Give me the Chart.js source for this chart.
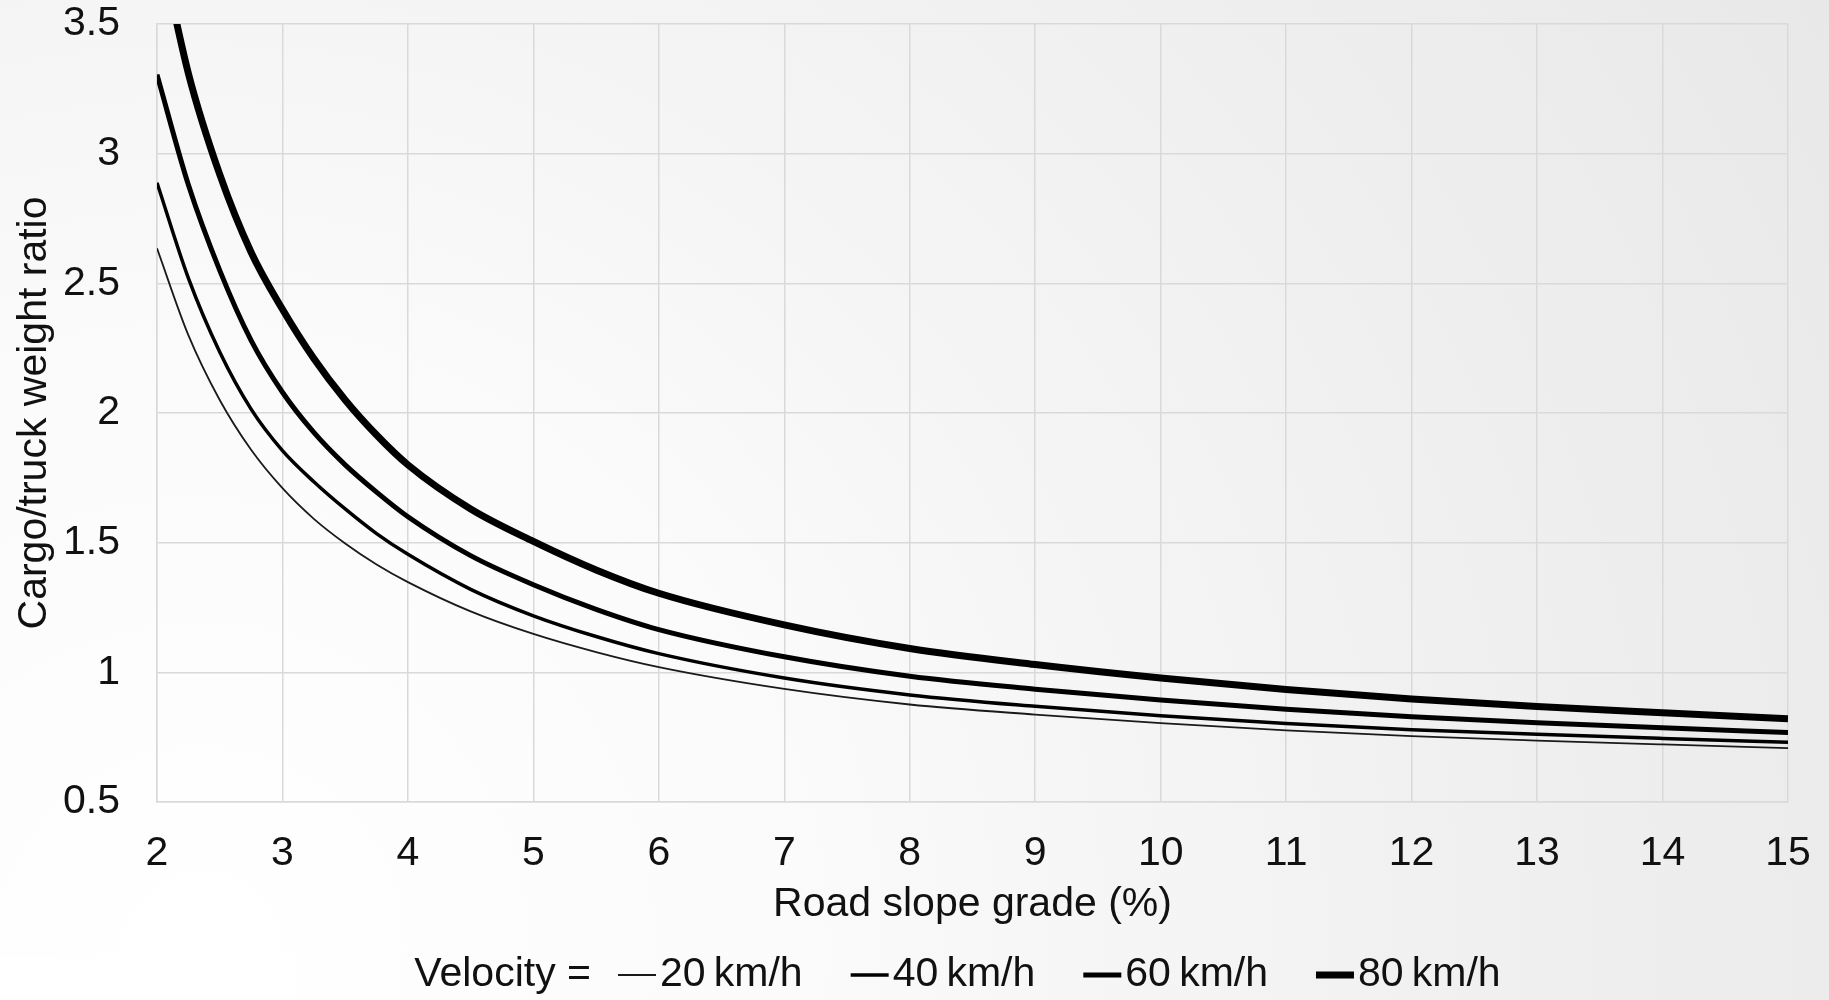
<!DOCTYPE html>
<html>
<head>
<meta charset="utf-8">
<script src="https://cdn.jsdelivr.net/npm/chart.js@4.4.1/dist/chart.umd.min.js"></script>
<style>
  html, body { margin: 0; padding: 0; background: #fff; }
  #wrap { width: 1829px; height: 1000px; }
</style>
</head>
<body>
<div id="wrap"><canvas id="slopeChart" width="1829" height="1000"></canvas></div>
<script>
// road slope grade (%) and cargo/truck weight ratio per velocity
const grades = [2, 2.25, 2.5, 2.75, 3, 3.25, 3.5, 3.75, 4, 4.5, 5, 5.5, 6, 7, 8, 9, 10, 11, 12, 13, 14, 15];
const ratio20 = [2.635, 2.30, 2.05, 1.858, 1.71, 1.592, 1.497, 1.416, 1.348, 1.235, 1.148, 1.078, 1.02, 0.936, 0.876, 0.837, 0.804, 0.776, 0.754, 0.737, 0.722, 0.708];
const ratio40 = [2.888, 2.52, 2.235, 2.015, 1.855, 1.735, 1.63, 1.535, 1.455, 1.32, 1.218, 1.138, 1.072, 0.978, 0.913, 0.869, 0.833, 0.803, 0.779, 0.761, 0.745, 0.730];
const ratio60 = [3.305, 2.88, 2.55, 2.28, 2.08, 1.925, 1.80, 1.695, 1.60, 1.45, 1.338, 1.243, 1.165, 1.06, 0.985, 0.935, 0.893, 0.858, 0.829, 0.806, 0.786, 0.768];
const ratio80 = [3.86, 3.31, 2.92, 2.62, 2.40, 2.21, 2.05, 1.915, 1.80, 1.63, 1.505, 1.395, 1.305, 1.183, 1.092, 1.03, 0.978, 0.934, 0.897, 0.868, 0.844, 0.821];

const velocityLabels = ['20\u2009km/h', '40\u2009km/h', '60\u2009km/h', '80\u2009km/h'];
const legendPrefix = 'Velocity =';
const xTicks = [2, 3, 4, 5, 6, 7, 8, 9, 10, 11, 12, 13, 14, 15];
const yTicks = [0.5, 1, 1.5, 2, 2.5, 3, 3.5];

const FONT = '"Liberation Sans", Arial, sans-serif';
Chart.defaults.font.family = FONT;
Chart.defaults.font.size = 41;
Chart.defaults.color = '#111';

const series = [ratio20, ratio40, ratio60, ratio80];
const widths = [1.8, 3.5, 5, 7];
const colors = ['#1a1a1a', '#000', '#000', '#000'];

const datasets = series.map((vals, i) => ({
    label: velocityLabels[i],
    data: grades.map((g, j) => ({ x: g, y: vals[j] })),
    borderColor: colors[i],
    borderWidth: widths[i],
    pointRadius: 0,
    fill: false,
    cubicInterpolationMode: 'monotone',
    clip: 0
}));

const background = {
    id: 'background',
    beforeDraw(chart) {
        const ctx = chart.ctx;
        const w = chart.width, h = chart.height;
        ctx.save();
        const g = ctx.createRadialGradient(200, 950, 0, 200, 950, 1900);
        g.addColorStop(0, '#ffffff');
        g.addColorStop(0.3, '#fbfbfb');
        g.addColorStop(0.6, '#f2f2f2');
        g.addColorStop(1, '#e8e8e8');
        ctx.fillStyle = g;
        ctx.fillRect(0, 0, w, h);
        ctx.fillStyle = '#ffffff';
        ctx.fillRect(0, 958, 295, h - 958);
        ctx.restore();
    }
};

const velocityLegend = {
    id: 'velocityLegend',
    afterDraw(chart) {
        const ctx = chart.ctx;
        const area = chart.chartArea;
        ctx.save();
        ctx.font = '41px ' + FONT;
        ctx.fillStyle = '#111';
        ctx.textBaseline = 'middle';
        const y = area.bottom + 173;
        const sampleLen = 38, sampleGap = 4, itemGap = 48, prefixGap = 27;
        const items = chart.data.datasets;
        let total = ctx.measureText(legendPrefix).width + prefixGap;
        items.forEach((ds, i) => {
            total += sampleLen + sampleGap + ctx.measureText(ds.label).width;
            if (i < items.length - 1) total += itemGap;
        });
        let x = (area.left + area.right) / 2 - 15 - total / 2;
        ctx.fillText(legendPrefix, x, y);
        x += ctx.measureText(legendPrefix).width + prefixGap;
        items.forEach(ds => {
            ctx.beginPath();
            ctx.strokeStyle = ds.borderColor;
            ctx.lineWidth = ds.borderWidth;
            ctx.moveTo(x, y);
            ctx.lineTo(x + sampleLen, y);
            ctx.stroke();
            x += sampleLen + sampleGap;
            ctx.fillText(ds.label, x, y);
            x += ctx.measureText(ds.label).width + itemGap;
        });
        ctx.restore();
    }
};

const ctx = document.getElementById('slopeChart').getContext('2d');
new Chart(ctx, {
    type: 'line',
    data: { datasets: datasets },
    options: {
        responsive: false,
        animation: false,
        layout: { padding: { top: 24, right: 41, bottom: 58, left: 0 } },
        plugins: {
            legend: { display: false },
            tooltip: { enabled: false }
        },
        scales: {
            x: {
                type: 'linear',
                min: 2,
                max: 15,
                afterBuildTicks: scale => { scale.ticks = xTicks.map(v => ({ value: v })); },
                afterFit: scale => {
                    scale.height = 140;
                    scale.paddingLeft = 0;
                    scale.paddingRight = 0;
                },
                ticks: { padding: 27, callback: v => String(v), maxRotation: 0, autoSkip: false },
                grid: { color: '#d9d9d9', lineWidth: 1.5, drawTicks: false },
                border: { color: '#d9d9d9', width: 1.5 },
                title: { display: true, text: 'Road slope grade (%)', padding: { top: 0, bottom: 13 } }
            },
            y: {
                type: 'linear',
                min: 0.5,
                max: 3.5,
                afterBuildTicks: scale => { scale.ticks = yTicks.map(v => ({ value: v })); },
                afterFit: scale => {
                    scale.width = 157;
                    scale.paddingTop = 0;
                    scale.paddingBottom = 0;
                },
                ticks: { padding: 37, callback: v => String(v) },
                grid: { color: '#d9d9d9', lineWidth: 1.5, drawTicks: false },
                border: { color: '#d9d9d9', width: 1.5 },
                title: { display: true, text: 'Cargo/truck weight ratio', padding: { top: 10, bottom: 0 } }
            }
        }
    },
    plugins: [background, velocityLegend]
});
</script>
</body>
</html>
